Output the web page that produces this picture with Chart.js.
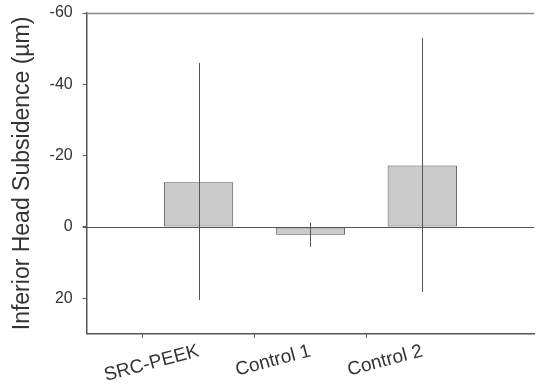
<!DOCTYPE html>
<html>
<head>
<meta charset="utf-8">
<script src="https://cdn.jsdelivr.net/npm/chart.js@4/dist/chart.umd.min.js"></script>
<style>
  html, body { margin: 0; padding: 0; background: #fff; }
  #wrap { width: 542px; height: 389px; }
</style>
</head>
<body>
<div id="wrap"><canvas id="c" width="542" height="389"></canvas></div>
<script>
// Groups (empty slots pad the axis on both sides)
const categories = ['', 'SRC-PEEK', 'Control 1', 'Control 2', ''];
// Mean subsidence (µm) per group
const meanValues = [null, -12.5, 2.2, -17.2, null];
// Error bar extents (µm)
const errTop = [null, -46, -1.2, -53, null];
const errBottom = [null, 20.5, 5.6, 18.3, null];
// Y axis ticks
const yTicks = [-60, -40, -20, 0, 20];
const yMin = -60, yMax = 30;

const axisColor = '#555';
const textColor = '#333';
const fontFamily = 'Liberation Sans, Arial, sans-serif';

const errorBars = {
  id: 'errorBars',
  afterDatasetsDraw(chart) {
    const { ctx, scales: { x, y } } = chart;
    ctx.save();
    ctx.strokeStyle = '#555';
    ctx.lineWidth = 1;
    errTop.forEach((t, i) => {
      if (t === null) return;
      const px = Math.round(x.getPixelForValue(i)) + 0.5;
      ctx.beginPath();
      ctx.moveTo(px, y.getPixelForValue(t));
      ctx.lineTo(px, y.getPixelForValue(errBottom[i]));
      ctx.stroke();
    });
    ctx.restore();
  }
};

const zeroLine = {
  id: 'zeroLine',
  beforeDatasetsDraw(chart) {
    const { ctx, chartArea: a, scales: { y } } = chart;
    const py = Math.round(y.getPixelForValue(0)) + 0.5;
    ctx.save();
    ctx.strokeStyle = axisColor;
    ctx.lineWidth = 1;
    ctx.beginPath();
    ctx.moveTo(a.left - 4, py);
    ctx.lineTo(a.right, py);
    ctx.stroke();
    ctx.restore();
  }
};

const topBorder = {
  id: 'topBorder',
  afterDraw(chart) {
    const { ctx, chartArea: a } = chart;
    ctx.save();
    ctx.strokeStyle = '#888';
    ctx.lineWidth = 1.5;
    ctx.beginPath();
    ctx.moveTo(a.left, Math.round(a.top) + 0.5);
    ctx.lineTo(a.right, Math.round(a.top) + 0.5);
    ctx.stroke();
    ctx.restore();
  }
};

new Chart(document.getElementById('c'), {
  type: 'bar',
  data: {
    labels: categories,
    datasets: [{
      data: meanValues,
      backgroundColor: '#cbcbcb',
      borderColor: '#555',
      borderWidth: 1,
      borderSkipped: false,
      categoryPercentage: 1,
      barPercentage: 0.62
    }]
  },
  options: {
    responsive: false,
    animation: false,
    layout: { padding: { top: 13, right: 0, bottom: 0, left: 4 } },
    plugins: { legend: { display: false }, tooltip: { enabled: false } },
    scales: {
      x: {
        offset: false,
        grid: {
          display: true,
          drawOnChartArea: false,
          drawTicks: true,
          tickLength: 4,
          color: ctx => (categories[ctx.index] ? axisColor : 'rgba(0,0,0,0)')
        },
        border: { display: true, color: axisColor, width: 1.5 },
        ticks: {
          color: textColor,
          font: { family: fontFamily, size: 19 },
          minRotation: 15,
          maxRotation: 15,
          autoSkip: false,
          padding: 2
        }
      },
      y: {
        reverse: true,
        min: yMin,
        max: yMax,
        afterBuildTicks: s => { s.ticks = yTicks.map(v => ({ value: v })); },
        afterFit: s => { s.paddingTop = 0; },
        grid: {
          display: true,
          drawOnChartArea: false,
          drawTicks: true,
          tickLength: 4,
          color: axisColor
        },
        border: { display: true, color: axisColor, width: 1.5 },
        ticks: {
          color: textColor,
          font: { family: fontFamily, size: 16 },
          padding: 10
        },
        title: {
          display: true,
          text: 'Inferior Head Subsidence (µm)',
          color: textColor,
          font: { family: fontFamily, size: 23 },
          padding: { top: 5, bottom: 3 }
        }
      }
    }
  },
  plugins: [zeroLine, errorBars, topBorder]
});
</script>
</body>
</html>
